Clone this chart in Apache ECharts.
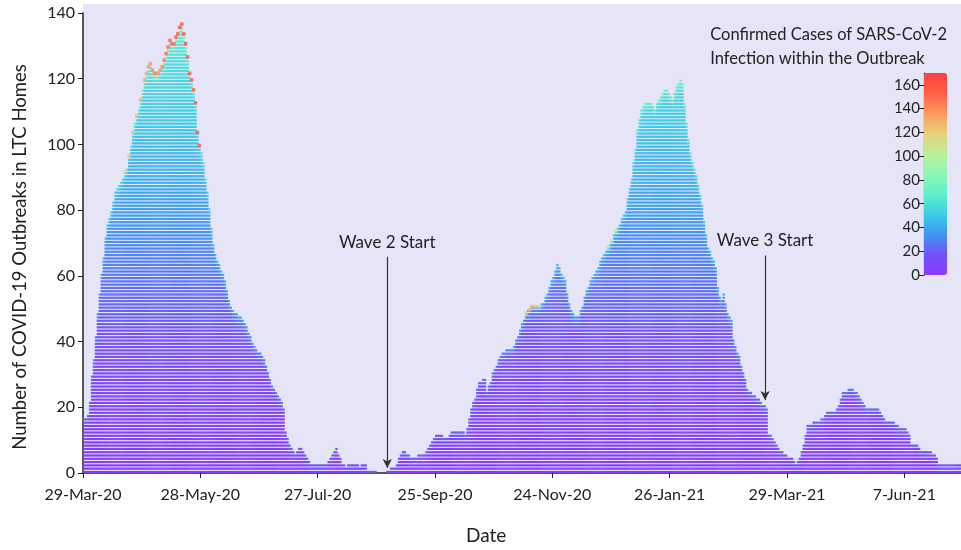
<!DOCTYPE html>
<html>
<head>
<meta charset="utf-8">
<script src="https://cdn.jsdelivr.net/npm/echarts@6/dist/echarts.min.js"></script>
<style>
html,body{margin:0;padding:0;background:#fff;}
#chart{width:961px;height:550px;}
</style>
</head>
<body>
<div id="chart"></div>
<script>
// ---- data ----
const tickLabels = ['29-Mar-20','28-May-20','27-Jul-20','25-Sep-20','24-Nov-20','26-Jan-21','29-Mar-21','7-Jun-21'];
// number of active outbreaks per day (day 0 = 29-Mar-20)
const outbreakCounts = [
17,17,18,22,30,35,42,49,55,61,
66,72,76,78,80,83,86,87,88,89,
90,92,93,97,100,104,107,109,111,114,
117,120,122,124,125,123,122,122,122,123,
124,126,128,130,132,131,131,133,134,136,
137,134,131,127,122,120,117,113,104,100,
98,95,90,86,81,75,70,67,65,64,
62,61,59,56,53,51,50,49,49,48,
48,47,46,45,43,42,40,39,38,37,
37,36,35,33,31,29,27,26,25,24,
23,22,20,13,11,9,8,7,6,7,
8,8,7,6,5,4,3,3,3,3,
3,3,3,3,3,4,5,6,7,8,
6,5,3,3,2,3,3,3,3,3,
3,2,3,3,3,1,1,1,1,1,
0,0,0,0,0,1,1,2,2,2,
3,5,6,7,7,6,6,5,5,5,
5,6,6,6,6,7,8,9,10,11,
12,12,12,12,11,11,11,12,13,13,
13,13,13,13,13,12,14,17,20,22,
23,26,28,28,29,29,25,27,28,31,
32,33,35,36,37,37,38,38,38,38,
39,41,42,44,46,47,49,50,50,51,
51,51,51,51,52,52,54,55,57,59,
60,62,64,63,61,60,59,55,52,50,
49,48,48,48,50,51,54,56,57,59,
60,61,62,63,65,66,67,68,69,70,
71,73,74,75,76,78,79,80,84,87,
90,95,99,105,108,111,112,113,113,113,
113,112,111,113,114,115,116,117,117,116,
115,114,116,118,119,120,119,113,107,102,
98,95,93,91,88,85,82,77,73,69,
68,66,65,63,57,54,53,55,52,49,
48,47,41,39,37,36,33,31,29,26,
25,25,24,24,23,23,22,21,21,20,
12,12,11,10,9,8,7,7,6,6,
5,5,5,4,3,4,5,7,9,12,
15,15,15,16,16,16,16,17,17,18,
19,19,19,19,19,20,21,23,25,25,
25,26,26,26,25,25,24,23,22,21,
20,20,20,20,20,20,20,19,18,17,
16,16,16,16,16,15,15,14,14,14,
14,13,12,9,9,9,9,8,7,7,
7,7,7,7,6,6,5,3,3,3,
3,3,3,3,3,3,3,3,3
];
// largest outbreaks (top of the stack) on selected days
const peakDays  = [21,23,25,27,29,31,32,33,34,35,36,37,38,39,40,41,42,43,44,45,46,47,48,49,50,51,52,53,54,55,56,57,58,59,226,228,229,231,233,268,270,272];
const peakCases = [112,118,122,126,128,130,133,136,138,140,142,140,138,140,142,145,148,150,152,150,152,155,158,160,158,160,162,158,160,158,155,160,162,158,110,125,130,120,115,95,100,100];
// typical outbreak size by stack level
const rowLevels = [0,10,20,30,40,50,60,70,80,90,100,110,120,130,140];
const rowCases  = [2,4,7,11,16,21,26,31,37,42,47,52,57,63,70];
// extra size of the few largest outbreaks at the top of each day's stack
const topBoost = [16,9,4];
// annotations
const waveLabels = ['Wave 2 Start','Wave 3 Start'];
const waveDays = [155.6,348.8];
const waveTop = [65.8,66.2];
const waveTip = [1.5,22.2];
const caseMax = 170;
const rampColors = ['#8a38fb','#7450f8','#3f96f2','#3cccE6','#5ef0cc','#8cf8b4','#bcf09a','#e8d07c','#fc9a5c','#ff6048','#ff4040'];

// ---- helpers ----
function hexToRgb(h){return [parseInt(h.substr(1,2),16),parseInt(h.substr(3,2),16),parseInt(h.substr(5,2),16)];}
function rampColor(v){
  const t = Math.max(0,Math.min(1,v/caseMax))*(rampColors.length-1);
  const i = Math.min(Math.floor(t), rampColors.length-2), f = t-i;
  const a = hexToRgb(rampColors[i]), b = hexToRgb(rampColors[i+1]);
  const c = a.map((x,k)=>Math.round(x+(b[k]-x)*f));
  return 'rgb('+c.join(',')+')';
}
function levelCases(r){
  const i = Math.min(Math.floor(r/10), rowLevels.length-2), f = (r-rowLevels[i])/10;
  return rowCases[i]+(rowCases[i+1]-rowCases[i])*f;
}

const colData = outbreakCounts.map((c,i)=>[i,c]);
const dotData = peakDays.map((d,i)=>[d+0.5, outbreakCounts[d]-0.35, peakCases[i]]);
const markData = waveLabels.map((lab,i)=>[
  {coord:[waveDays[i],waveTop[i]], symbol:'none', label:{formatter:lab}},
  {coord:[waveDays[i],waveTip[i]], symbol:'arrow', symbolSize:[7,9]}
]);

const FONT = 'Lato';
const BAND = 0.64;
const chart = echarts.init(document.getElementById('chart'), null, {renderer:'canvas'});
chart.setOption({
  animation:false,
  backgroundColor:'#ffffff',
  textStyle:{fontFamily:FONT},
  graphic:[
    {type:'rect', shape:{x:83,y:4,width:878,height:10}, style:{fill:'#e5e5f7'}, z:-10},
    {type:'text', right:14, top:23, z:20, style:{text:'Confirmed Cases of SARS-CoV-2\nInfection within the Outbreak', fontFamily:FONT, fontSize:16.5, lineHeight:24, fill:'#222', align:'right'}},
    {type:'text', left:466, top:526, z:20, style:{text:'Date', fontFamily:FONT, fontSize:19, fill:'#222'}},
    {type:'text', x:20, y:257, rotation:Math.PI/2, z:20, style:{text:'Number of COVID-19 Outbreaks in LTC Homes', fontFamily:FONT, fontSize:18.5, fill:'#222', align:'center', verticalAlign:'middle'}}
  ],
  grid:[
    {left:83, right:0, top:13, bottom:77, show:true, backgroundColor:'#e5e5f7', borderWidth:0},
    {left:924, top:73, width:23, height:202, show:false}
  ],
  visualMap:{
    type:'continuous', min:0, max:caseMax, dimension:2, seriesIndex:1,
    orient:'vertical', left:924, top:73, itemWidth:23, itemHeight:202,
    calculable:false, text:null, showLabel:false, padding:0,
    inRange:{color:rampColors}, textStyle:{color:'transparent'}
  },
  xAxis:[
    {type:'value', gridIndex:0, min:0, max:449, interval:60,
     axisLine:{show:true, lineStyle:{color:'#222', width:1.5}},
     axisTick:{show:true, inside:false, length:5, lineStyle:{color:'#222'}},
     axisLabel:{show:true, margin:14, fontSize:16, color:'#222', showMaxLabel:false,
       formatter:(v)=> (v%60===0 && tickLabels[v/60]) ? tickLabels[v/60] : ''},
     splitLine:{show:false}},
    {type:'value', gridIndex:1, show:false, min:0, max:1}
  ],
  yAxis:[
    {type:'value', gridIndex:0, min:0, max:140, interval:20,
     axisLine:{show:true, lineStyle:{color:'#222', width:1.5}},
     axisTick:{show:true, length:5, lineStyle:{color:'#222'}},
     axisLabel:{fontSize:16, color:'#222', margin:8},
     splitLine:{show:false}},
    {type:'value', gridIndex:1, min:0, max:caseMax, interval:20, position:'left',
     axisLine:{show:true, lineStyle:{color:'#222', width:1.2}},
     axisTick:{show:true, length:5, lineStyle:{color:'#222'}},
     axisLabel:{fontSize:15, color:'#222', margin:4, showMaxLabel:false},
     splitLine:{show:false}}
  ],
  series:[
    {type:'custom', xAxisIndex:0, yAxisIndex:0, data:colData, z:2,
     encode:{x:0,y:1},
     renderItem:function(params, api){
       const d = api.value(0), c = api.value(1);
       if (!c) return null;
       const x0 = api.coord([d,0])[0], x1 = api.coord([d+1,0])[0];
       const children = [];
       for (let r=0; r<c; r++){
         const yb = api.coord([d, r])[1], yt = api.coord([d, r+BAND])[1];
         const k = c-1-r;
         const v = levelCases(r+0.5) + (k<topBoost.length ? topBoost[k] : 0);
         children.push({type:'rect', shape:{x:x0, y:yt, width:x1-x0+0.4, height:yb-yt}, style:{fill:rampColor(v)}});
       }
       return {type:'group', children:children};
     }},
    {type:'scatter', xAxisIndex:0, yAxisIndex:0, data:dotData, symbol:'rect', symbolSize:[3.5,3.5], z:6,
     markLine:{silent:true, animation:false,
       lineStyle:{color:'#333', width:1.2, type:'solid'},
       label:{show:true, position:'start', fontSize:17, color:'#222', fontFamily:FONT, distance:6},
       data:markData}}
  ]
});
</script>
</body>
</html>
